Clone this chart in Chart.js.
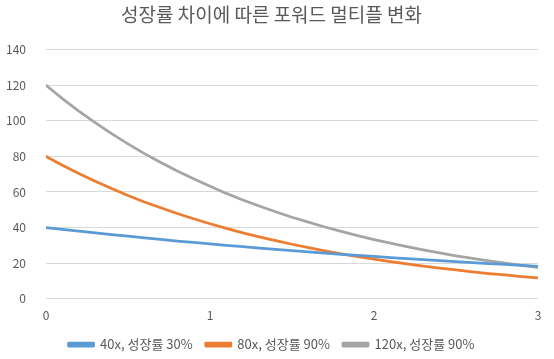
<!DOCTYPE html>
<html><head><meta charset="utf-8">
<script src="https://cdn.jsdelivr.net/npm/chart.js@4/dist/chart.umd.min.js"></script>
<style>html,body{margin:0;padding:0;background:#fff}#wrap{width:554px;height:359px}</style>
</head><body><div id="wrap"><canvas id="c" width="554" height="359"></canvas></div>
<script>
const years = [0,0.1,0.2,0.3,0.4,0.5,0.6,0.7,0.8,0.9,1,1.1,1.2,1.3,1.4,1.5,1.6,1.7,1.8,1.9,2,2.1,2.2,2.3,2.4,2.5,2.6,2.7,2.8,2.9,3];
const seriesNames = ['40x, 성장률 30%','80x, 성장률 90%','120x, 성장률 90%'];
const s40 = [40,39.0,38.0,37.0,36.0,35.1,34.2,33.3,32.4,31.6,30.8,30.0,29.2,28.4,27.7,27.0,26.3,25.6,24.9,24.3,23.7,23.1,22.5,21.9,21.3,20.8,20.2,19.7,19.2,18.7,18.2];
const s80 = [80,75.0,70.4,66.0,61.9,58.0,54.4,51.1,47.9,44.9,42.1,39.5,37.0,34.7,32.6,30.6,28.7,26.9,25.2,23.6,22.2,20.8,19.5,18.3,17.1,16.1,15.1,14.1,13.3,12.4,11.7];
const s120 = [120,112.5,105.5,99.0,92.8,87.1,81.6,76.6,71.8,67.4,63.2,59.2,55.5,52.1,48.9,45.8,43.0,40.3,37.8,35.4,33.2,31.2,29.2,27.4,25.7,24.1,22.6,21.2,19.9,18.7,17.5];
const xTicks = [0,1,2,3];
const yTicks = [0,20,40,60,80,100,120,140];
const colors = ['#5B9BD5','#ED7D31','#A5A5A5'];
const toPts = arr => arr.map((v,i)=>({x:years[i],y:v}));
const FONT = "'Noto Sans CJK KR','Noto Sans',sans-serif";
new Chart(document.getElementById('c'),{
  type:'scatter',
  data:{datasets:[s40,s80,s120].map((s,i)=>({
    label:seriesNames[i],data:toPts(s),showLine:true,borderColor:colors[i],backgroundColor:colors[i],
    borderWidth:2.75,pointRadius:0,tension:0,borderCapStyle:'round',borderJoinStyle:'round'
  }))},
  options:{
    responsive:false,animation:false,
    layout:{padding:{left:5,right:16,top:1,bottom:-2}},
    plugins:{
      title:{display:true,text:'성장률 차이에 따른 포워드 멀티플 변화',color:'#595959',font:{family:FONT,size:19,weight:'normal'},padding:{top:2,bottom:24}},
      legend:{position:'bottom',labels:{color:'#595959',font:{family:FONT,size:13},boxWidth:25,boxHeight:3,padding:13}},
      tooltip:{enabled:false}
    },
    scales:{
      x:{type:'linear',min:0,max:3,afterBuildTicks:s=>{s.ticks=xTicks.map(v=>({value:v}));},
        grid:{display:false},border:{display:false},
        ticks:{color:'#595959',font:{family:FONT,size:12},padding:2}},
      y:{min:0,max:140,afterBuildTicks:s=>{s.ticks=yTicks.map(v=>({value:v}));},
        afterFit:s=>{s.width=41;},
        grid:{color:'#D9D9D9',lineWidth:1,drawTicks:false},border:{display:false},
        ticks:{color:'#595959',font:{family:FONT,size:12},padding:20}}
    }
  }
});
</script></body></html>
